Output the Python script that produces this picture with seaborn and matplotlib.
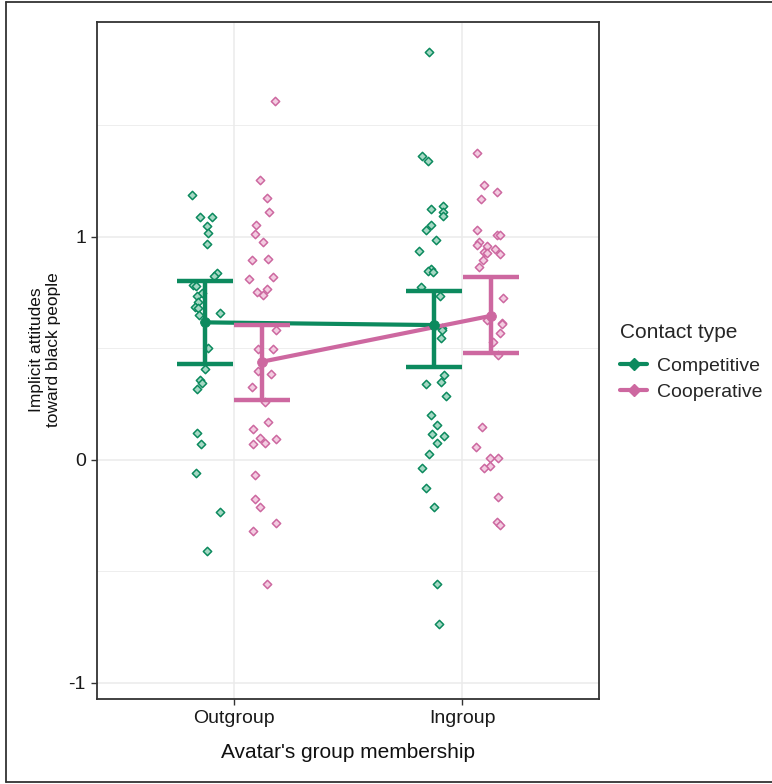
import matplotlib
matplotlib.use('Agg')
import matplotlib.pyplot as plt
from matplotlib.lines import Line2D
import numpy as np
import pandas as pd
import seaborn as sns

sns.set_theme(style='white')
plt.rcParams['font.family'] = ['Liberation Sans', 'DejaVu Sans']

# 数据：原始点（x 为带抖动的位置，1=Outgroup，2=Ingroup）
groups = ['Outgroup', 'Ingroup']
contact_types = ['Competitive', 'Cooperative']

out_comp_y = [1.19, 1.09, 1.09, 1.05, 1.02, 0.97, 0.84, 0.825, 0.785, 0.78, 0.75, 0.735, 0.71, 0.685,
              0.68, 0.65, 0.66, 0.62, 0.50, 0.41, 0.36, 0.345, 0.32, 0.12, 0.07, -0.06, -0.235, -0.41]
out_comp_x = [0.816, 0.851, 0.904, 0.882, 0.886, 0.882, 0.925, 0.912, 0.820, 0.833, 0.860, 0.838, 0.842, 0.829,
              0.842, 0.846, 0.939, 0.873, 0.886, 0.873, 0.851, 0.860, 0.838, 0.838, 0.855, 0.833, 0.939, 0.882]

out_coop_y = [1.61, 1.256, 1.175, 1.112, 1.054, 1.013, 0.978, 0.897, 0.90, 0.82, 0.81, 0.767, 0.753, 0.74,
              0.583, 0.498, 0.498, 0.40, 0.386, 0.327, 0.26, 0.17, 0.139, 0.10, 0.094, 0.072, 0.077,
              -0.067, -0.175, -0.21, -0.283, -0.318, -0.556]
out_coop_x = [1.180, 1.114, 1.145, 1.154, 1.096, 1.092, 1.127, 1.079, 1.149, 1.171, 1.066, 1.145, 1.101, 1.127,
              1.184, 1.105, 1.171, 1.105, 1.162, 1.079, 1.136, 1.149, 1.083, 1.114, 1.184, 1.083, 1.136,
              1.092, 1.092, 1.114, 1.184, 1.083, 1.145]

in_comp_y = [1.83, 1.363, 1.341, 1.139, 1.126, 1.112, 1.094, 1.054, 1.031, 0.987, 0.937, 0.857, 0.848, 0.843,
             0.776, 0.735, 0.59, 0.583, 0.547, 0.381, 0.35, 0.341, 0.287, 0.202, 0.157, 0.117, 0.108, 0.076,
             0.027, -0.036, -0.126, -0.211, -0.556, -0.735]
in_comp_x = [1.855, 1.825, 1.851, 1.917, 1.864, 1.917, 1.917, 1.864, 1.842, 1.886, 1.811, 1.864, 1.851, 1.873,
             1.820, 1.904, 1.912, 1.912, 1.908, 1.921, 1.908, 1.842, 1.930, 1.864, 1.890, 1.868, 1.921, 1.890,
             1.855, 1.825, 1.842, 1.877, 1.890, 1.899]

in_coop_y = [1.377, 1.233, 1.202, 1.17, 1.031, 1.009, 1.009, 0.978, 0.964, 0.96, 0.946, 0.933, 0.928, 0.924,
             0.897, 0.865, 0.726, 0.628, 0.614, 0.61, 0.57, 0.53, 0.47, 0.148, 0.058, 0.009, 0.009,
             -0.027, -0.036, -0.166, -0.278, -0.291]
in_coop_x = [2.066, 2.096, 2.154, 2.083, 2.066, 2.154, 2.167, 2.075, 2.066, 2.110, 2.145, 2.096, 2.110, 2.167,
             2.092, 2.075, 2.180, 2.110, 2.175, 2.175, 2.167, 2.136, 2.158, 2.088, 2.061, 2.123, 2.158,
             2.123, 2.096, 2.158, 2.154, 2.167]

# 均值和置信区间（Outgroup, Ingroup）
comp_mean = [0.617, 0.605]
comp_low = [0.429, 0.418]
comp_high = [0.804, 0.759]
coop_mean = [0.441, 0.646]
coop_low = [0.269, 0.478]
coop_high = [0.604, 0.819]

palette = {'Competitive': '#0C8A5E', 'Cooperative': '#CD68A0'}
light = {'Competitive': '#A6D8C4', 'Cooperative': '#F3CCE1'}

raw = pd.concat([
    pd.DataFrame({'x': out_comp_x, 'y': out_comp_y, 'type': 'Competitive'}),
    pd.DataFrame({'x': in_comp_x, 'y': in_comp_y, 'type': 'Competitive'}),
    pd.DataFrame({'x': out_coop_x, 'y': out_coop_y, 'type': 'Cooperative'}),
    pd.DataFrame({'x': in_coop_x, 'y': in_coop_y, 'type': 'Cooperative'}),
], ignore_index=True)

dodge = {'Competitive': -0.125, 'Cooperative': 0.125}
means = pd.DataFrame({
    'group': groups * 2,
    'type': ['Competitive'] * 2 + ['Cooperative'] * 2,
    'mean': comp_mean + coop_mean,
    'low': comp_low + coop_low,
    'high': comp_high + coop_high,
})
means['pos'] = [groups.index(g) + 1 + dodge[t] for g, t in zip(means['group'], means['type'])]

fig = plt.figure(figsize=(7.72, 7.84), dpi=100)
ax = fig.add_axes([97 / 772, 1 - 699 / 784, 502 / 772, 677 / 784])

# 网格
ax.set_xlim(0.4, 2.6)
ax.set_ylim(-1.072, 1.964)
ax.set_xticks([1, 2])
ax.set_xticklabels(groups)
ax.set_yticks([-1, 0, 1])
ax.set_yticklabels(['-1', '0', '1'])
ax.set_yticks([-0.5, 0.5, 1.5], minor=True)
ax.grid(True, which='major', color='#EBEBEB', linewidth=1.1)
ax.grid(True, which='minor', axis='y', color='#EBEBEB', linewidth=0.6)
ax.set_axisbelow(True)

# 原始数据点
for t in contact_types:
    sub = raw[raw['type'] == t]
    sns.scatterplot(data=sub, x='x', y='y', marker='D', s=18, color=light[t],
                    edgecolor=palette[t], linewidth=1.1, ax=ax, zorder=2, legend=False)

# 均值连线、误差线、均值点
for t in contact_types:
    sub = means[means['type'] == t]
    sns.lineplot(data=sub, x='pos', y='mean', color=palette[t], linewidth=3, ax=ax,
                 zorder=3, legend=False, sort=False)
    ax.errorbar(sub['pos'], sub['mean'],
                yerr=[sub['mean'] - sub['low'], sub['high'] - sub['mean']],
                fmt='none', ecolor=palette[t], elinewidth=3.2, capsize=20, capthick=3.2, zorder=4)
    sns.scatterplot(data=sub, x='pos', y='mean', color=palette[t], s=50, marker='o',
                    edgecolor=palette[t], ax=ax, zorder=5, legend=False)

for sp in ax.spines.values():
    sp.set_color('#333333')
    sp.set_linewidth(1.3)
ax.tick_params(axis='both', which='major', direction='out', length=4, width=1, color='#333333',
               labelsize=14, labelcolor='#1a1a1a', bottom=True, left=True, pad=4)
ax.tick_params(axis='both', which='minor', length=0)
ax.set_xlabel('')
ax.set_ylabel('')

fig.text(348 / 772, 1 - 752 / 784, "Avatar's group membership", ha='center', va='center', fontsize=15, color='#111111')
fig.text(45 / 772, 1 - 350 / 784, 'Implicit attitudes\ntoward black people', ha='center', va='center',
         rotation=90, fontsize=12.5, color='#111111', multialignment='center', linespacing=1.15)

# 图例
handles = [Line2D([0], [0], color=palette[t], lw=3, marker='D', markersize=6,
                  markerfacecolor=palette[t], markeredgecolor=palette[t]) for t in contact_types]
leg = fig.legend(handles, contact_types, title='Contact type', loc='upper left',
                 bbox_to_anchor=(620 / 772, 1 - 323 / 784), frameon=False, fontsize=14,
                 title_fontsize=15, handlelength=1.4, handletextpad=0.5, labelspacing=0.45,
                 borderpad=0, borderaxespad=0, alignment='left')
leg._legend_box.sep = 11

# 外框
for line in [((0.008, 0.008), (0.003, 0.997)), ((0.008, 1.0), (0.997, 0.997)), ((0.008, 1.0), (0.003, 0.003))]:
    fig.add_artist(Line2D(line[0], line[1], color='#333333', lw=1.3, transform=fig.transFigure))

fig.savefig('out.png', dpi=100)
